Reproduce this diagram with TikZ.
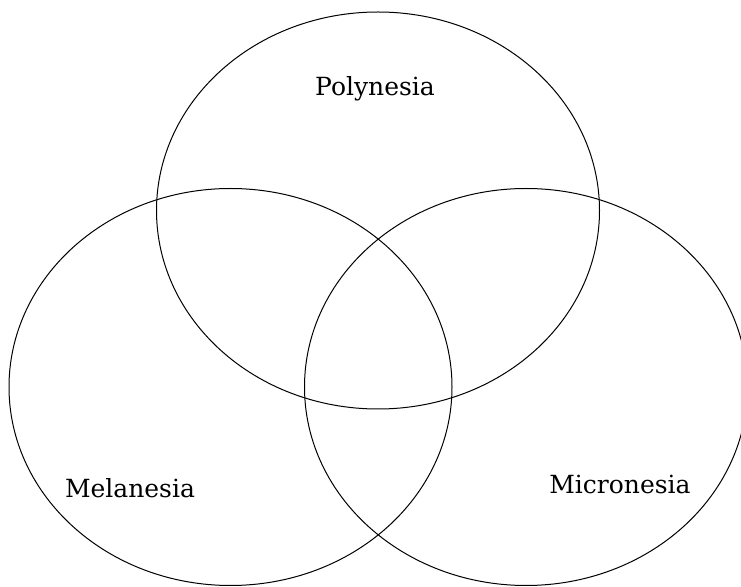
\documentclass[tikz,border=0pt]{standalone}
\usepackage{fontspec}
\setmainfont{DejaVu Serif}
\usepackage{tikz}
\usetikzlibrary{positioning,shapes.geometric}
\tikzset{region/.style={draw,ellipse,inner sep=0pt,line width=1pt,minimum width=443pt,minimum height=397pt},
	label/.style={anchor=base,font=\fontsize{25}{29}\selectfont}}

\begin{document}
\begin{tikzpicture}[x=1pt,y=1pt]
		\clip (0,0) rectangle (741,586);
		\node(P) [region] at (378,375.5)	{};
		\node(M) [region] at (230.5,199)	{};
		\node(C) [region] at (526,199)		{};
		
		\node(PL) [label] at (375,490)		{Polynesia};
		\node(ML) [label] at (130,88)		{Melanesia};
		\node(CL) [label] at (620,92)		{Micronesia};
	\end{tikzpicture}
\end{document}
